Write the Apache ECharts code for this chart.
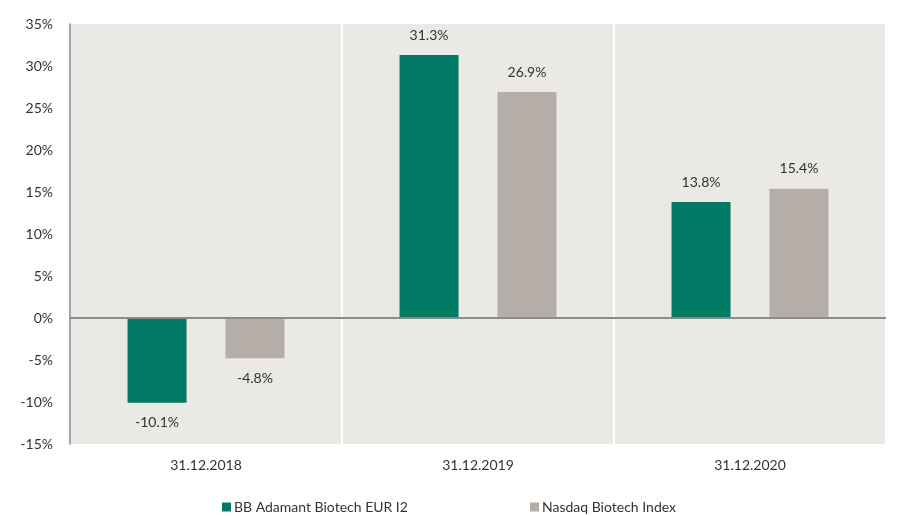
<!DOCTYPE html>
<html>
<head>
<meta charset="utf-8">
<script src="https://cdn.jsdelivr.net/npm/echarts@6/dist/echarts.min.js"></script>
<style>
  html, body { margin: 0; padding: 0; background: #fff; }
  #chart { width: 917px; height: 516px; }
</style>
</head>
<body>
<div id="chart"></div>
<script>
var categories = ['31.12.2018', '31.12.2019', '31.12.2020'];
var fundValues = [-10.1, 31.3, 13.8];
var indexValues = [-4.8, 26.9, 15.4];
var seriesNames = ['BB Adamant Biotech EUR I2', 'Nasdaq Biotech Index'];

var myChart = echarts.init(document.getElementById('chart'));

function withLabels(values) {
	return values.map(function(v) {
		return { value: v, label: { position: v < 0 ? 'bottom' : 'top' } };
	});
}

var fontName = 'Lato';
var textFont = { fontFamily: fontName, fontSize: 14, color: '#333' };

function legendAt(left, name) {
	return {
		top: 500,
		left: left,
		padding: 0,
		itemWidth: 9,
		itemHeight: 9,
		icon: 'rect',
		textStyle: { fontFamily: fontName, fontSize: 14, color: '#333', padding: [0, 0, 0, -2] },
		data: [name]
	};
}

var option = {
	animation: false,
	textStyle: { fontFamily: fontName },
	grid: { left: 70, right: 31, top: 24, bottom: 72, show: true, backgroundColor: '#ebe9e5', borderWidth: 0 },
	legend: [legendAt(222, seriesNames[0]), legendAt(530, seriesNames[1])],
	xAxis: {
		type: 'category',
		data: categories,
		axisLine: { show: false },
		axisTick: { show: false },
		splitLine: { show: true, lineStyle: { color: '#ffffff', width: 2 } },
		axisLabel: Object.assign({ margin: 14 }, textFont)
	},
	yAxis: {
		type: 'value',
		min: -15,
		max: 35,
		interval: 5,
		axisLine: { show: true, lineStyle: { color: '#888', width: 1.5 } },
		axisTick: { show: false },
		splitLine: { show: false },
		axisLabel: Object.assign({ margin: 17, formatter: '{value}%' }, textFont)
	},
	series: [
		{
			name: seriesNames[0],
			type: 'bar',
			barWidth: 59,
			barGap: '66%',
			itemStyle: { color: '#007a64' },
			label: Object.assign({ show: true, distance: 13, formatter: function(p) { return p.value.toFixed(1) + '%'; } }, textFont),
			data: withLabels(fundValues),
			markLine: {
				silent: true,
				symbol: 'none',
				label: { show: false },
				lineStyle: { color: '#8c8c8c', width: 2, type: 'solid' },
				data: [{ yAxis: 0 }]
			}
		},
		{
			name: seriesNames[1],
			type: 'bar',
			barWidth: 59,
			itemStyle: { color: '#b5aea8' },
			label: Object.assign({ show: true, distance: 13, formatter: function(p) { return p.value.toFixed(1) + '%'; } }, textFont),
			data: withLabels(indexValues)
		}
	]
};

myChart.setOption(option);
</script>
</body>
</html>
